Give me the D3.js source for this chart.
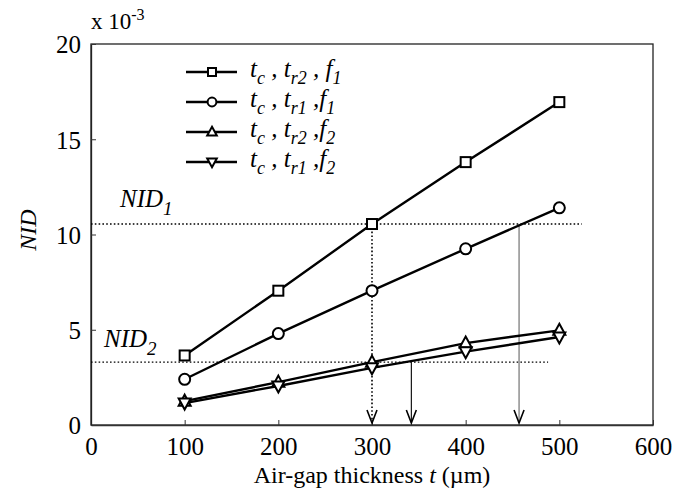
<!DOCTYPE html>
<html>
<head>
<meta charset="utf-8">
<script src="https://cdn.jsdelivr.net/npm/d3@7"></script>
<style>
  body { margin: 0; background: #fff; }
  svg text { font-family: "Liberation Serif", "Times New Roman", Times, serif !important; fill: #000; }
</style>
</head>
<body>
<svg id="chart" width="675" height="496"></svg>
<script>
// air-gap thickness (um)
const thickness = [100, 200, 300, 400, 500];
// NID values (x 10^-3)
const nidSquare = [3.65, 7.05, 10.55, 13.8, 16.95];
const nidCircle = [2.4, 4.8, 7.05, 9.25, 11.4];
const nidUp     = [1.25, 2.25, 3.3, 4.3, 4.97];
const nidDown   = [1.15, 2.05, 3.0, 3.85, 4.62];
const seriesNames = [
  ['t', 'c', 't', 'r2', 'f', '1'],
  ['t', 'c', 't', 'r1', 'f', '1'],
  ['t', 'c', 't', 'r2', 'f', '2'],
  ['t', 'c', 't', 'r1', 'f', '2']
];
const symbols = ['square', 'circle', 'up', 'down'];
const xTicks = [0, 100, 200, 300, 400, 500, 600];
const yTicks = [0, 5, 10, 15, 20];
// threshold levels and read-off thicknesses
const nidLevels = [10.55, 3.3];
const nidLabels = ['1', '2'];
const levelEnds = [524, 488];
const arrowX = [300, 342, 457];
const arrowFrom = [10.55, 3.3, 10.55];

const serif = '"Liberation Serif", "Times New Roman", serif';
const svg = d3.select('#chart');
const x = d3.scaleLinear().domain([0, 600]).range([91, 653]);
const y = d3.scaleLinear().domain([0, 20]).range([425, 44]);

// frame
svg.append('rect')
  .attr('x', x(0)).attr('y', y(20))
  .attr('width', x(600) - x(0)).attr('height', y(0) - y(20))
  .attr('fill', 'none').attr('stroke', '#222').attr('stroke-width', 1.3);

// axes with inward ticks
svg.append('g')
  .attr('transform', 'translate(0,' + y(0) + ')')
  .call(d3.axisBottom(x).tickValues(xTicks).tickSizeInner(-5).tickSizeOuter(0).tickPadding(12))
  .attr('font-family', serif).attr('font-size', 25)
  .call(g => g.select('.domain').attr('stroke', '#333').attr('stroke-width', 1.5))
  .call(g => g.selectAll('.tick line').attr('stroke', '#333'));

svg.append('g')
  .attr('transform', 'translate(' + x(0) + ',0)')
  .call(d3.axisLeft(y).tickValues(yTicks).tickSizeInner(-5).tickSizeOuter(0).tickPadding(10))
  .attr('font-family', serif).attr('font-size', 25)
  .call(g => g.select('.domain').attr('stroke', '#222').attr('stroke-width', 1.3))
  .call(g => g.selectAll('.tick line').attr('stroke', '#333'))
  .call(g => g.selectAll('.tick text').attr('dy', '0.35em'));

// axis titles
const xt = svg.append('text')
  .attr('x', 372).attr('y', 483)
  .attr('text-anchor', 'middle')
  .style('font-size', '24px');
xt.append('tspan').text('Air-gap thickness ');
xt.append('tspan').style('font-style', 'italic').text('t');
xt.append('tspan').text(' (\u00b5m)');

svg.append('text')
  .attr('transform', 'translate(36,' + 230 + ')rotate(-90)')
  .attr('text-anchor', 'middle')
  .style('font-size', '24px')
  .style('font-style', 'italic')
  .text('NID');

const ex = svg.append('text')
  .attr('x', 91).attr('y', 29)
  .style('font-size', '23px');
ex.append('tspan').text('x 10');
ex.append('tspan').attr('dy', -9).style('font-size', '16px').text('-3');

// NID threshold dotted lines
nidLevels.forEach((v, i) => {
  svg.append('line')
    .attr('x1', x(0)).attr('x2', x(levelEnds[i]))
    .attr('y1', y(v)).attr('y2', y(v))
    .attr('stroke', '#000').attr('stroke-width', 1.4)
    .attr('stroke-dasharray', '1.6,2.2');
  const t = svg.append('text')
    .attr('x', i === 0 ? 120 : 104)
    .attr('y', y(v) - (i === 0 ? 17 : 15))
    .style('font-size', '25px')
    .style('font-style', 'italic');
  t.append('tspan').text('NID');
  t.append('tspan').attr('dy', 8).style('font-size', '19px').text(nidLabels[i]);
});

// vertical read-off arrows
arrowX.forEach((v, i) => {
  const col = i === 2 ? '#666' : '#000';
  const g = svg.append('g');
  g.append('line')
    .attr('x1', x(v)).attr('x2', x(v))
    .attr('y1', y(arrowFrom[i])).attr('y2', y(0) - 2)
    .attr('stroke', col)
    .attr('stroke-width', i === 0 ? 1.6 : 1.1)
    .attr('stroke-dasharray', i === 0 ? '1.6,2.2' : null);
  g.append('path')
    .attr('d', 'M' + (x(v) - 5) + ',' + (y(0) - 15) + 'L' + x(v) + ',' + (y(0) - 2) + 'L' + (x(v) + 5) + ',' + (y(0) - 15))
    .attr('fill', 'none').attr('stroke', '#000').attr('stroke-width', 1.6);
});

// series
const allSeries = [nidSquare, nidCircle, nidUp, nidDown];
const line = d3.line().x((d, i) => x(thickness[i])).y(d => y(d));

function drawMarker(g, type, cx, cy, k) {
  k = k || 1;
  if (type === 'square') {
    g.append('rect').attr('x', cx - 5 * k).attr('y', cy - 5 * k).attr('width', 10 * k).attr('height', 10 * k)
      .attr('fill', '#fff').attr('stroke', '#000').attr('stroke-width', 2);
  } else if (type === 'circle') {
    g.append('circle').attr('cx', cx).attr('cy', cy).attr('r', 5.5 * k)
      .attr('fill', '#fff').attr('stroke', '#000').attr('stroke-width', 2);
  } else if (type === 'up') {
    g.append('path').attr('d', 'M' + cx + ',' + (cy - 6.5 * k) + 'L' + (cx + 6 * k) + ',' + (cy + 4.5 * k) + 'L' + (cx - 6 * k) + ',' + (cy + 4.5 * k) + 'Z')
      .attr('fill', '#fff').attr('stroke', '#000').attr('stroke-width', 2);
  } else {
    g.append('path').attr('d', 'M' + cx + ',' + (cy + 6.5 * k) + 'L' + (cx + 6 * k) + ',' + (cy - 4.5 * k) + 'L' + (cx - 6 * k) + ',' + (cy - 4.5 * k) + 'Z')
      .attr('fill', '#fff').attr('stroke', '#000').attr('stroke-width', 2);
  }
}

allSeries.forEach((vals) => {
  svg.append('path')
    .datum(vals)
    .attr('d', line)
    .attr('fill', 'none').attr('stroke', '#000').attr('stroke-width', 2.4);
});
allSeries.forEach((vals, s) => {
  const g = svg.append('g');
  vals.forEach((v, i) => drawMarker(g, symbols[s], x(thickness[i]), y(v)));
});

// legend
seriesNames.forEach((n, i) => {
  const ly = 72 + i * 30;
  const g = svg.append('g');
  g.append('line').attr('x1', 186).attr('x2', 237).attr('y1', ly).attr('y2', ly)
    .attr('stroke', '#000').attr('stroke-width', 2.4);
  drawMarker(g, symbols[i], 212, ly, 0.8);
  const t = g.append('text').attr('x', 250).attr('y', ly + 5)
    .style('font-size', '25px').style('font-style', 'italic');
  t.append('tspan').text(n[0]);
  t.append('tspan').attr('dy', 7).style('font-size', '18px').text(n[1]);
  t.append('tspan').attr('dy', -7).text(' , ' + n[2]);
  t.append('tspan').attr('dy', 7).style('font-size', '18px').text(n[3]);
  t.append('tspan').attr('dy', -7).text(i === 0 ? ' ,  ' + n[4] : ' ,' + n[4]);
  t.append('tspan').attr('dy', 7).style('font-size', '18px').text(n[5]);
});
</script>
</body>
</html>
